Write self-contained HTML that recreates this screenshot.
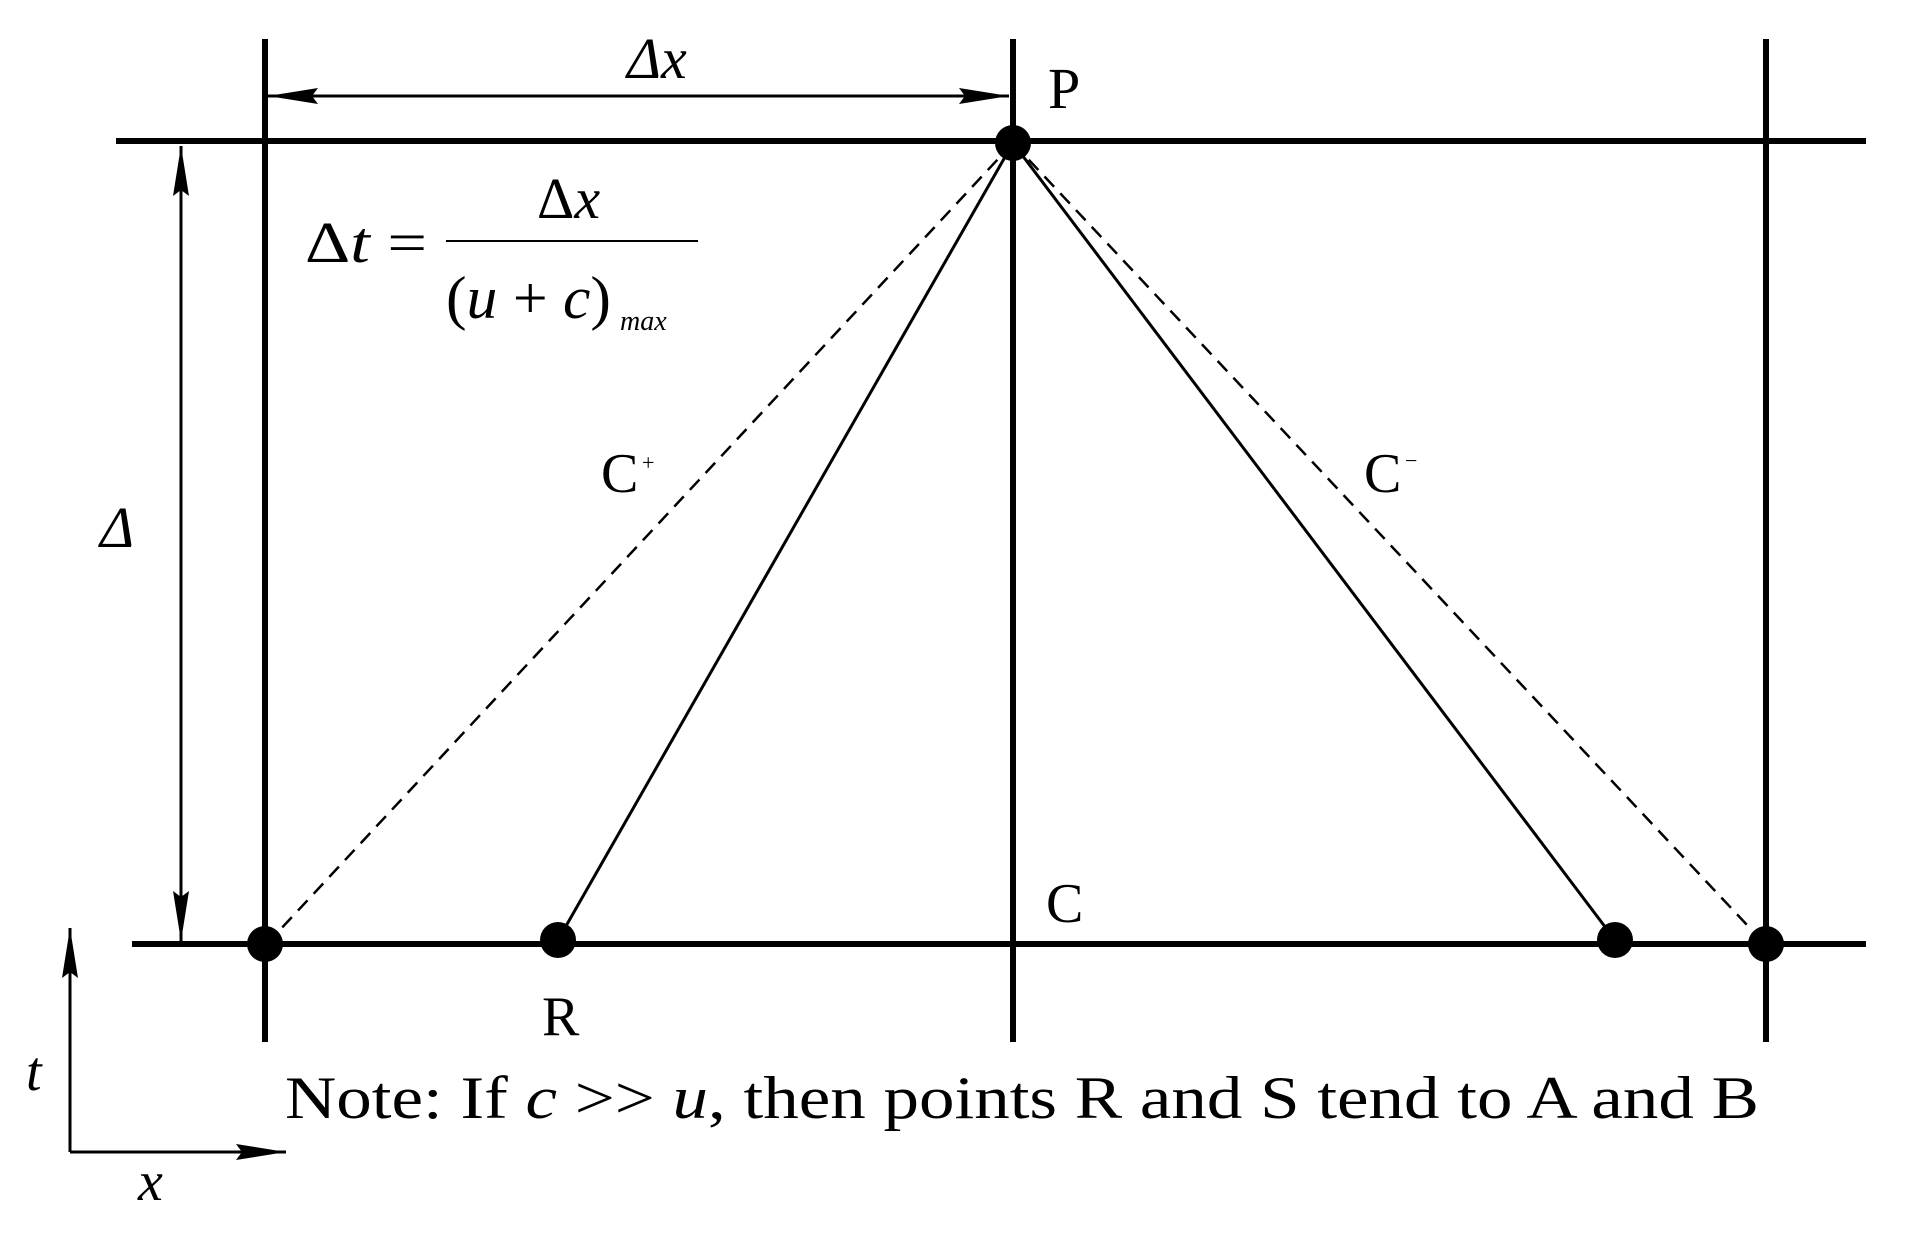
<!DOCTYPE html>
<html><head><meta charset="utf-8"><style>html,body{margin:0;padding:0;background:#fff}svg{display:block}</style></head>
<body>
<svg width="1913" height="1236" viewBox="0 0 1913 1236" xmlns="http://www.w3.org/2000/svg">
<defs>
<marker id="ab" viewBox="0 0 50 16" refX="50" refY="8" markerWidth="50" markerHeight="16" markerUnits="userSpaceOnUse" orient="auto-start-reverse">
<path d="M0,0 L50,8 L0,16 L6,8 Z" fill="#000"/>
</marker>
</defs>
<g stroke="#000" fill="none">
<line x1="265" y1="39" x2="265" y2="1042" stroke-width="6"/>
<line x1="1013" y1="39" x2="1013" y2="1042" stroke-width="6"/>
<line x1="1766" y1="39" x2="1766" y2="1042" stroke-width="6"/>
<line x1="116" y1="141" x2="1866" y2="141" stroke-width="6"/>
<line x1="132" y1="944" x2="1866" y2="944" stroke-width="6"/>
<line x1="1013" y1="143" x2="558" y2="940" stroke-width="3"/>
<line x1="1013" y1="143" x2="1615" y2="940" stroke-width="3"/>
<line x1="1013" y1="143" x2="278" y2="932" stroke-width="2.5" stroke-dasharray="14,9"/>
<line x1="1013" y1="143" x2="1748" y2="926" stroke-width="2.5" stroke-dasharray="14,9"/>
<line x1="268" y1="96" x2="1009" y2="96" stroke-width="3" marker-start="url(#ab)" marker-end="url(#ab)"/>
<line x1="181" y1="146" x2="181" y2="941" stroke-width="3" marker-start="url(#ab)" marker-end="url(#ab)"/>
<line x1="70" y1="1152" x2="70" y2="928" stroke-width="3" marker-end="url(#ab)"/>
<line x1="70" y1="1152" x2="286" y2="1152" stroke-width="3" marker-end="url(#ab)"/>
<line x1="446" y1="241" x2="698" y2="241" stroke-width="2"/>
</g>
<g fill="#000">
<circle cx="1013" cy="143" r="18"/>
<circle cx="265" cy="944" r="18"/>
<circle cx="558" cy="940" r="18"/>
<circle cx="1615" cy="940" r="18"/>
<circle cx="1766" cy="944" r="18"/>
</g>
<g font-family="Liberation Serif, serif" fill="#000">
<text x="627" y="78" font-size="58" font-style="italic">Δx</text>
<text x="1048" y="108" font-size="58">P</text>
<text x="100" y="547" font-size="58" font-style="italic">Δ</text>
<text x="305" y="262" font-size="58" textLength="122" lengthAdjust="spacingAndGlyphs">Δ<tspan font-style="italic">t</tspan> =</text>
<text x="537" y="218" font-size="58">Δ<tspan font-style="italic">x</tspan></text>
<text x="446" y="318" font-size="60" textLength="165" lengthAdjust="spacingAndGlyphs">(<tspan font-style="italic">u</tspan> + <tspan font-style="italic">c</tspan>)</text>
<text x="620" y="330" font-size="28" font-style="italic">max</text>
<text x="601" y="492" font-size="56">C</text><text x="642" y="470" font-size="22">+</text>
<text x="1364" y="492" font-size="56">C</text><text x="1405" y="468" font-size="22">−</text>
<text x="1046" y="922" font-size="56">C</text>
<text x="542" y="1035" font-size="56">R</text>
<text x="26" y="1090" font-size="56" font-style="italic">t</text>
<text x="138" y="1200" font-size="56" font-style="italic">x</text>
<text x="285" y="1118" font-size="60" textLength="1474" lengthAdjust="spacingAndGlyphs">Note: If <tspan font-style="italic">c</tspan> &gt;&gt; <tspan font-style="italic">u</tspan>, then points R and S tend to A and B</text>
</g>
</svg>
</body></html>
